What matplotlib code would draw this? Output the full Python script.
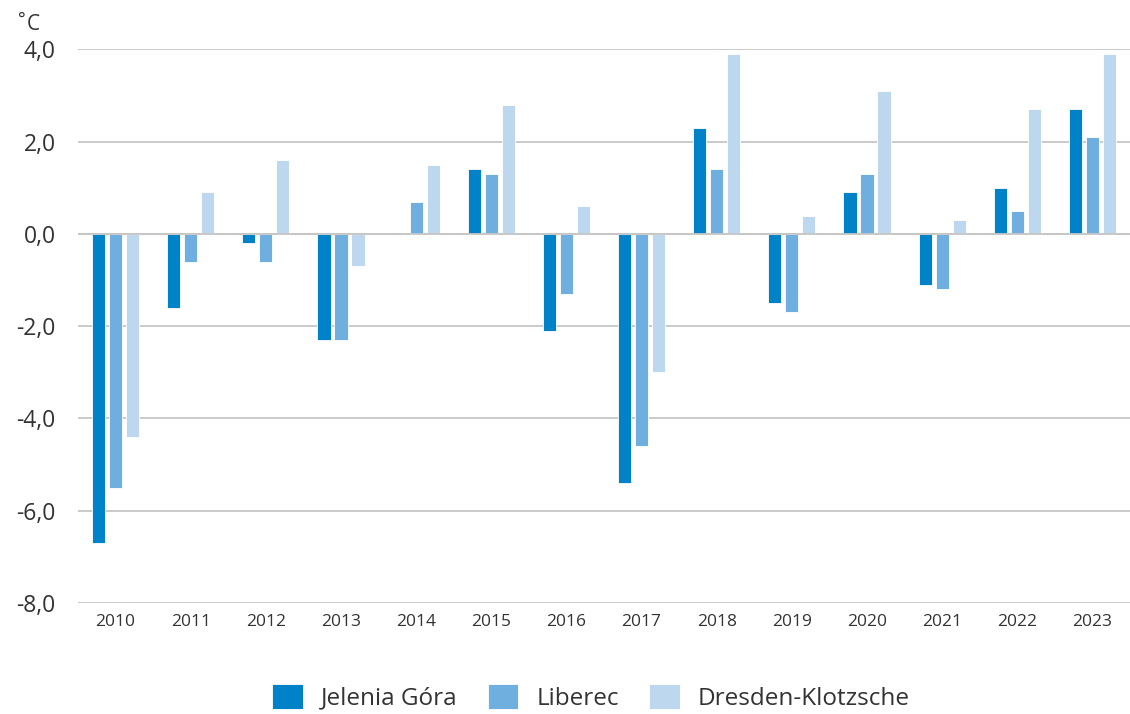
import matplotlib

matplotlib.use("Agg")
import matplotlib.pyplot as plt
import numpy as np
from matplotlib.ticker import FuncFormatter

years = ["2010", "2011", "2012", "2013", "2014", "2015", "2016",
         "2017", "2018", "2019", "2020", "2021", "2022", "2023"]
jelenia_gora = [-6.7, -1.6, -0.2, -2.3, 0.0, 1.4, -2.1, -5.4, 2.3, -1.5, 0.9, -1.1, 1.0, 2.7]
liberec = [-5.5, -0.6, -0.6, -2.3, 0.7, 1.3, -1.3, -4.6, 1.4, -1.7, 1.3, -1.2, 0.5, 2.1]
dresden = [-4.4, 0.9, 1.6, -0.7, 1.5, 2.8, 0.6, -3.0, 3.9, 0.4, 3.1, 0.3, 2.7, 3.9]

series_names = ["Jelenia Góra", "Liberec", "Dresden-Klotzsche"]
colors = ["#0082c8", "#6eafe0", "#bdd7ef"]

plt.rcParams["font.family"] = ["Open Sans", "DejaVu Sans"]

fig = plt.figure(figsize=(11.3, 7.14), dpi=100)
ax = fig.add_axes([0.069, 0.1555, 0.931, 0.7752])

x = np.arange(len(years))
step = 0.226
width = 0.175
for i, (vals, name, col) in enumerate(zip([jelenia_gora, liberec, dresden], series_names, colors)):
    ax.bar(x + (i - 1) * step, vals, width=width, color=col, edgecolor="white",
           linewidth=0.6, label=name, zorder=3)

ax.set_ylim(-8, 4)
ax.set_xlim(-0.5, len(years) - 0.5)
ax.set_yticks(np.arange(-8, 4.1, 2))
ax.yaxis.set_major_formatter(FuncFormatter(lambda v, _: f"{v:.1f}".replace(".", ",")))
ax.set_xticks(x, labels=years)
ax.grid(axis="y", color="#c6c6c6", linewidth=1.3, zorder=0)
ax.axhline(0, color="#c6c6c6", linewidth=1.3, zorder=4)
for spine in ax.spines.values():
    spine.set_visible(False)
ax.tick_params(axis="y", length=0, pad=16, labelsize=16.5, labelcolor="#333333")
ax.tick_params(axis="x", length=0, pad=8, labelsize=12.5, labelcolor="#333333")

fig.text(0.016, 0.972, "°", fontsize=13, color="#333333", va="center")
fig.text(0.024, 0.966, "C", fontsize=15, color="#333333", va="center")

fig.legend(loc="center", bbox_to_anchor=(0.523, 0.023), ncol=3, frameon=False,
           fontsize=17.5, handlelength=1.25, handleheight=1.15, columnspacing=1.25,
           handletextpad=0.75, labelcolor="#333333")

fig.savefig("out.png", dpi=100)
